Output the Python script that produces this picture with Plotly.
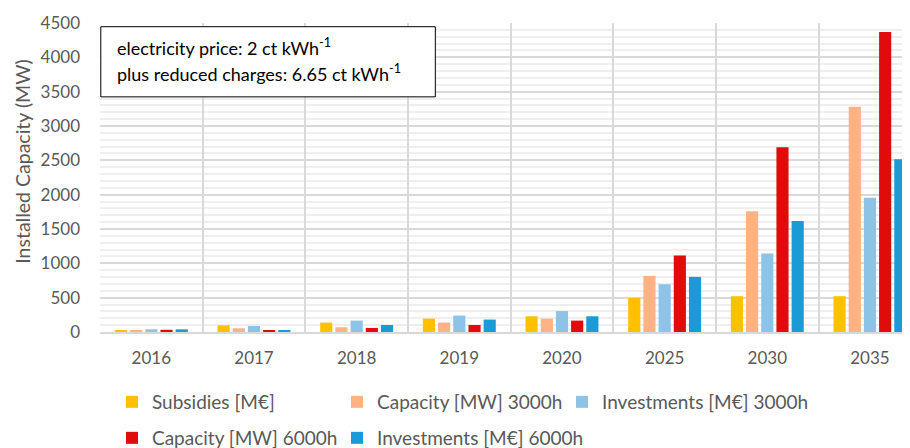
import plotly.graph_objects as go

years = ["2016", "2017", "2018", "2019", "2020", "2025", "2030", "2035"]

subsidies = [25, 98, 137, 195, 229, 496, 521, 521]
capacity_3000 = [25, 54, 69, 137, 195, 817, 1757, 3279]
invest_3000 = [39, 88, 166, 239, 306, 696, 1144, 1955]
capacity_6000 = [32, 29, 59, 102, 166, 1115, 2691, 4369]
invest_6000 = [39, 25, 102, 181, 229, 803, 1615, 2515]

series = [
    ("Subsidies [M€]", subsidies, "#FFC000"),
    ("Capacity [MW] 3000h", capacity_3000, "#FFB283"),
    ("Investments [M€] 3000h", invest_3000, "#8EC3E8"),
    ("Capacity [MW] 6000h", capacity_6000, "#E00B0B"),
    ("Investments [M€] 6000h", invest_6000, "#1A9BD7"),
]
# one small legend per entry so the two rows line up in columns like the original
legend_ids = ["legend", "legend2", "legend3", "legend4", "legend5"]
legend_pos = [(0.0148, -0.2265), (0.2926, -0.2265), (0.5704, -0.2265), (0.0148, -0.343), (0.2926, -0.343)]

font_family = "Lato, 'Open Sans', sans-serif"
grey = "#595959"

fig = go.Figure()
for (name, vals, col), leg in zip(series, legend_ids):
    fig.add_trace(
        go.Bar(
            x=years,
            y=vals,
            name=name,
            marker=dict(color=col, line=dict(width=0)),
            legend=leg,
            showlegend=True,
        )
    )

# lighter vertical lines through each category centre
for yr in years:
    fig.add_shape(
        type="line",
        xref="x",
        yref="paper",
        x0=yr,
        x1=yr,
        y0=0,
        y1=1,
        line=dict(color="#efefef", width=2),
        layer="below",
    )

# text box
fig.add_shape(
    type="rect",
    xref="paper",
    yref="paper",
    x0=0.001,
    x1=0.414,
    y0=0.761,
    y1=0.988,
    line=dict(color="#000000", width=1),
    fillcolor="#ffffff",
    layer="above",
)
box_lines = [
    ("electricity price: 2 ct kWh<sup>-1</sup>", 0.923),
    ("plus reduced charges: 6.65 ct kWh<sup>-1</sup>", 0.839),
]
for txt, ypos in box_lines:
    fig.add_annotation(
        xref="paper",
        yref="paper",
        x=0.019,
        y=ypos,
        xanchor="left",
        yanchor="middle",
        align="left",
        showarrow=False,
        text=txt,
        font=dict(family=font_family, size=18, color="#000000"),
    )

# y axis title
fig.add_annotation(
    xref="paper",
    yref="paper",
    x=-0.0967,
    y=0.55,
    xanchor="center",
    yanchor="middle",
    textangle=-90,
    showarrow=False,
    text="Installed Capacity (MW)",
    font=dict(family=font_family, size=19.5, color=grey),
)

# the page body adds an 8px offset, so the figure is 8px smaller than the window
fig.update_layout(
    width=902,
    height=440,
    margin=dict(l=92, r=0, t=15, b=116, autoexpand=False),
    plot_bgcolor="#ffffff",
    paper_bgcolor="#ffffff",
    font=dict(family=font_family, size=16, color=grey),
    barmode="group",
    bargap=0.26,
    bargroupgap=0.2,
    showlegend=True,
)
for leg, (lx, ly) in zip(legend_ids, legend_pos):
    fig.update_layout(
        {
            leg: dict(
                orientation="h",
                x=lx,
                y=ly,
                xanchor="left",
                yanchor="middle",
                font=dict(size=19, color=grey),
                itemclick=False,
                bgcolor="rgba(0,0,0,0)",
            )
        }
    )

fig.update_xaxes(
    type="category",
    range=[-0.5, 7.39],
    tickson="boundaries",
    showgrid=True,
    gridcolor="#d9d9d9",
    gridwidth=2,
    ticks="",
    showline=True,
    linecolor="#d9d9d9",
    linewidth=2,
    automargin=False,
    ticklabelstandoff=10,
    tickfont=dict(size=17, color=grey),
)
fig.update_yaxes(
    range=[0, 4500],
    dtick=500,
    showgrid=True,
    gridcolor="#d9d9d9",
    gridwidth=2,
    minor=dict(dtick=100, showgrid=True, gridcolor="#efefef", gridwidth=2),
    zeroline=False,
    automargin=False,
    tickfont=dict(size=17, color=grey),
    ticklabelstandoff=19,
)

fig.write_html("out.html")
